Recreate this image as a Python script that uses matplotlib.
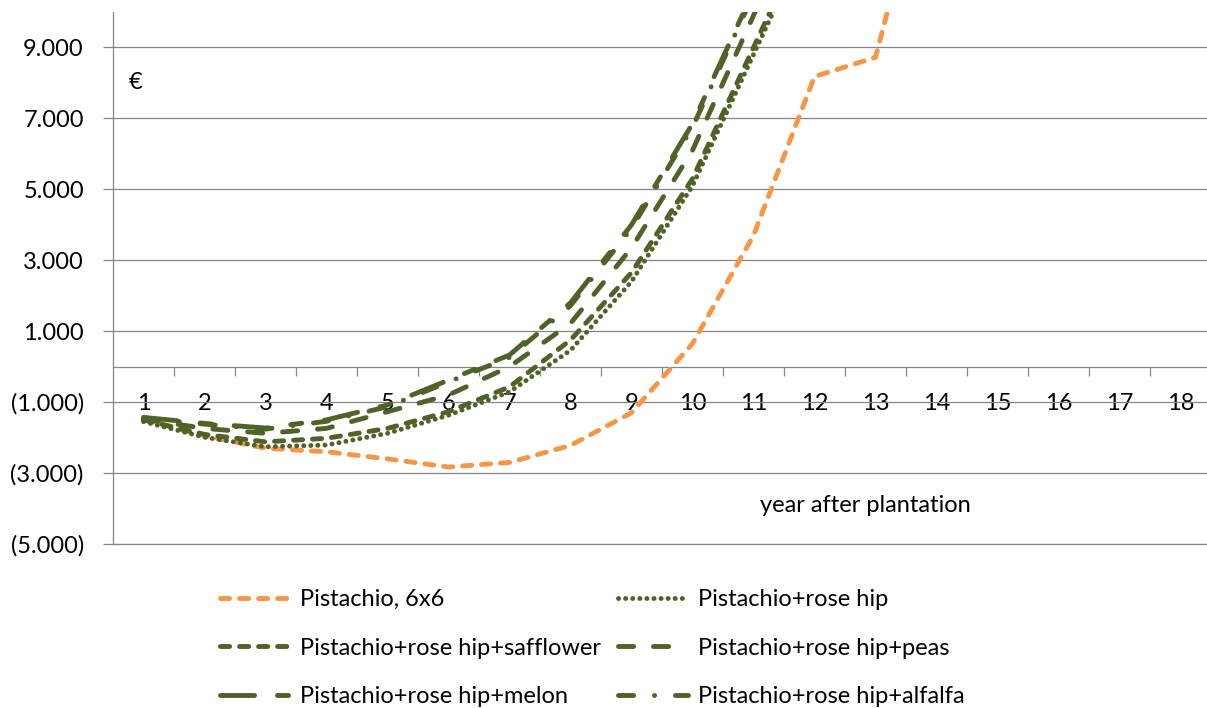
"""Cumulative cash flow of pistachio intercropping systems by year after plantation."""

import matplotlib

matplotlib.use("Agg")
import matplotlib.pyplot as plt
from matplotlib.ticker import FixedLocator, FuncFormatter

years = list(range(1, 19))

pistachio_6x6 = [-1500, -1950, -2300, -2400, -2600, -2830, -2700, -2220, -1300, 650,
                 3700, 8180, 8720, 15300, 19000, 23000, 27000, 31000]
rose_hip = [-1550, -1990, -2260, -2210, -1880, -1370, -710, 460, 2400, 5100,
            8800, 12500, 16300, 20100, 23900, 27700, 31500, 35300]
rose_hip_safflower = [-1500, -1910, -2120, -2020, -1740, -1270, -570, 750, 2650, 5300,
                      9000, 12700, 16500, 20300, 24100, 27900, 31700, 35500]
rose_hip_peas = [-1480, -1740, -1880, -1740, -1270, -800, 0, 1220, 3350, 6100,
                 9900, 13700, 17500, 21300, 25100, 28900, 32700, 36500]
rose_hip_melon = [-1430, -1600, -1730, -1500, -1080, -380, 330, 1800, 4000, 6850,
                  10600, 14400, 18200, 22000, 25800, 29600, 33400, 37200]
rose_hip_alfalfa = [-1450, -1620, -1760, -1540, -1130, -430, 260, 1720, 3900, 6750,
                    10500, 14300, 18100, 21900, 25700, 29500, 33300, 37100]

series_labels = [
    "Pistachio, 6x6",
    "Pistachio+rose hip",
    "Pistachio+rose hip+safflower",
    "Pistachio+rose hip+peas",
    "Pistachio+rose hip+melon",
    "Pistachio+rose hip+alfalfa",
]

y_ticks = [-5000, -3000, -1000, 1000, 3000, 5000, 7000, 9000]

ORANGE = "#F79646"
GREEN = "#4F6228"
GRID = "#868686"

plt.rcParams["font.family"] = ["Lato", "DejaVu Sans"]
plt.rcParams["lines.scale_dashes"] = False

fig = plt.figure(figsize=(12.07, 7.08), dpi=100)
ax = fig.add_axes([113 / 1207, 1 - 544 / 708, 1098 / 1207, 532 / 708])

LW = 3.5
styles = [
    (pistachio_6x6, ORANGE, (0, (6.6, 7.1))),
    (rose_hip, GREEN, (0, (0.1, 5.0))),
    (rose_hip_safflower, GREEN, (0, (6.6, 7.1))),
    (rose_hip_peas, GREEN, (0, (10.9, 14.3))),
    (rose_hip_melon, GREEN, (0, (24.5, 16.5, 8.0, 16.5))),
    (rose_hip_alfalfa, GREEN, (0, (10.9, 15.0, 0.1, 15.0))),
]

handles = []
for (vals, color, dash), label in zip(styles, series_labels):
    (ln,) = ax.plot(years, vals, color=color, lw=LW, linestyle=dash,
                    dash_capstyle="round", solid_capstyle="round", label=label,
                    zorder=3)
    handles.append(ln)

ax.set_xlim(0.5, 18.5)
ax.set_ylim(-5000, 10000)

# horizontal gridlines at the odd thousands
ax.yaxis.set_major_locator(FixedLocator(y_ticks))
ax.yaxis.set_major_formatter(FuncFormatter(
    lambda v, _: f"({abs(v):,.0f})".replace(",", ".") if v < 0 else f"{v:,.0f}".replace(",", ".")))
ax.grid(axis="y", color=GRID, lw=0.9, zorder=0)
ax.axhline(y_ticks[0], color=GRID, lw=0.9, clip_on=False, zorder=0)
ax.tick_params(axis="y", direction="out", length=7, width=0.9, color=GRID,
               pad=14, labelsize=17)

# category axis sitting on zero, ticks between categories
ax.spines["bottom"].set_position(("data", 0))
ax.spines["bottom"].set_color(GRID)
ax.spines["bottom"].set_linewidth(0.9)
ax.set_xticks(years)
ax.set_xticklabels([str(y) for y in years])
ax.set_xticks([y + 0.5 for y in years[:-1]], minor=True)
ax.tick_params(axis="x", which="major", length=0, pad=19, labelsize=17)
ax.tick_params(axis="x", which="minor", direction="out", length=6.5, width=0.9,
               color=GRID)

ax.spines["left"].set_color(GRID)
ax.spines["left"].set_linewidth(0.9)
ax.spines["top"].set_visible(False)
ax.spines["right"].set_visible(False)

ax.text(0.014, 0.867, "€", transform=ax.transAxes, fontsize=17,
        ha="left", va="center")
ax.text(0.685, 0.073, "year after plantation", transform=ax.transAxes,
        fontsize=17, ha="center", va="center")

# two legend columns, three rows each
leg_kw = dict(frameon=False, fontsize=17, handlelength=2.95, handletextpad=0.42,
              labelspacing=1.17, borderpad=0, borderaxespad=0, loc="upper left")
fig.legend([handles[0], handles[2], handles[4]],
           [series_labels[0], series_labels[2], series_labels[4]],
           bbox_to_anchor=(220 / 1207, 1 - 589 / 708), **leg_kw)
fig.legend([handles[1], handles[3], handles[5]],
           [series_labels[1], series_labels[3], series_labels[5]],
           bbox_to_anchor=(618 / 1207, 1 - 589 / 708), **leg_kw)

fig.savefig("out.png", dpi=100)
